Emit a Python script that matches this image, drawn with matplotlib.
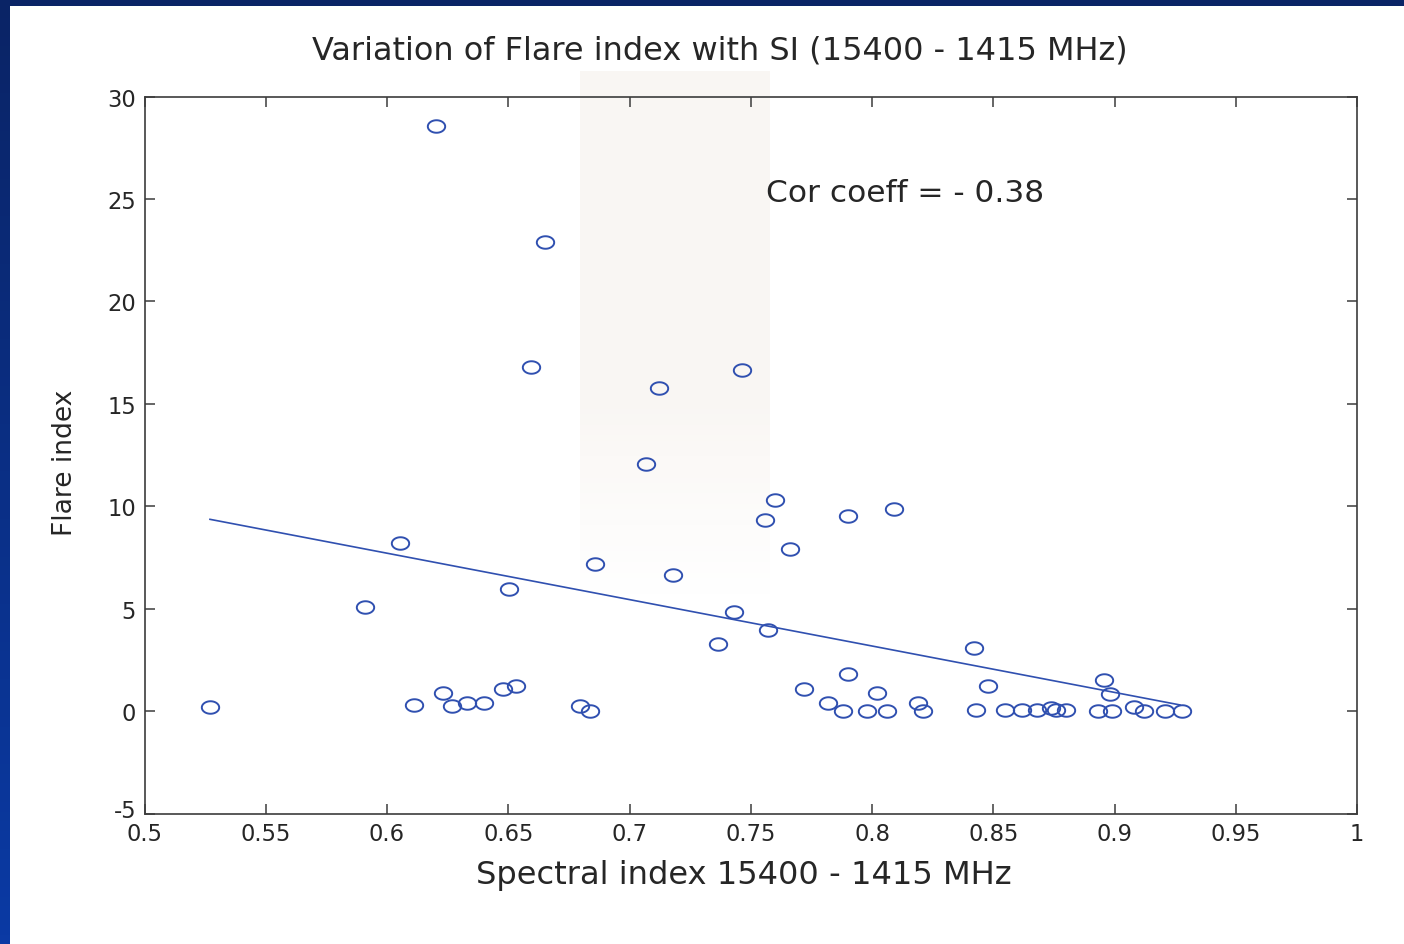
import numpy as np
import matplotlib
matplotlib.use('Agg')
import matplotlib.pyplot as plt
from matplotlib.path import Path
from matplotlib.colors import LinearSegmentedColormap
from matplotlib.transforms import offset_copy

# ---------------- data ----------------
si = [0.527, 0.6055, 0.591, 0.6505, 0.6857, 0.611, 0.623, 0.627, 0.633, 0.640,
      0.648, 0.653, 0.6795, 0.6836, 0.620, 0.665, 0.6595, 0.7465, 0.712, 0.707,
      0.760, 0.756, 0.790, 0.809, 0.766, 0.718, 0.743, 0.757, 0.7365, 0.790,
      0.772, 0.802, 0.782, 0.788, 0.798, 0.806, 0.819, 0.821, 0.842, 0.848,
      0.843, 0.855, 0.862, 0.868, 0.874, 0.876, 0.880, 0.893, 0.899, 0.8956,
      0.898, 0.908, 0.912, 0.921, 0.928]
flare = [0.22, 8.18, 5.07, 5.98, 7.16, 0.31, 0.88, 0.25, 0.38, 0.38,
         1.10, 1.24, 0.23, 0.0, 28.56, 22.89, 16.8, 16.65, 15.76, 12.06,
         10.29, 9.32, 9.52, 9.84, 7.89, 6.63, 4.84, 3.95, 3.29, 1.81,
         1.10, 0.87, 0.41, 0.0, 0.0, 0.0, 0.41, 0.0, 3.07, 1.21,
         0.04, 0.03, 0.04, 0.05, 0.15, 0.05, 0.06, 0.0, 0.0, 1.54,
         0.85, 0.21, 0.0, 0.0, 0.0]
fit_si = [0.527, 0.927]
fit_flare = [9.36, 0.30]

x_ticks = [0.5, 0.55, 0.6, 0.65, 0.7, 0.75, 0.8, 0.85, 0.9, 0.95, 1.0]
x_tick_labels = ['0.5', '0.55', '0.6', '0.65', '0.7', '0.75', '0.8', '0.85', '0.9', '0.95', '1']
y_ticks = [-5, 0, 5, 10, 15, 20, 25, 30]
y_tick_labels = ['-5', '0', '5', '10', '15', '20', '25', '30']

title_text = 'Variation of Flare index with SI (15400 - 1415 MHz)'
xlabel_text = 'Spectral index 15400 - 1415 MHz'
ylabel_text = 'Flare index'
cor_text = 'Cor coeff = - 0.38'

# ---------------- style ----------------
plt.rcParams['font.family'] = ['DejaVu Sans']
W, H = 1404, 945
BLUE = '#3050b0'
TXT = '#262626'
AX = '#3c3c3c'

fig = plt.figure(figsize=(W / 100, H / 100), dpi=100, facecolor='white')

# slide border (blue) on top and left
cmap = LinearSegmentedColormap.from_list('b', ['#0a2466', '#0b3aa4'])
lax = fig.add_axes([0, 0, 9.5 / W, 1])
lax.imshow(np.linspace(0, 1, 100).reshape(-1, 1), aspect='auto', cmap=cmap)
lax.set_axis_off()
tax = fig.add_axes([0, 1 - 7 / H, 1, 7 / H])
tax.imshow(np.zeros((1, 10)), aspect='auto', cmap=cmap, vmin=0, vmax=1)
tax.set_axis_off()

# faint scan shading band
band = LinearSegmentedColormap.from_list('band', ['#f9f6f3', '#ffffff'])
bax = fig.add_axes([580 / W, 1 - 600 / H, 190 / W, (600 - 72) / H], zorder=-5)
bax.imshow(np.concatenate([np.zeros(60), np.linspace(0, 1, 40)]).reshape(-1, 1),
           aspect='auto', cmap=band, vmin=0, vmax=1)
bax.set_axis_off()

ax = fig.add_axes([144.5 / W, 1 - 814.5 / H, 1212.5 / W, 717 / H])
ax.set_facecolor('none')

t = np.linspace(0, 2 * np.pi, 80)
ell = Path(np.column_stack([np.cos(t), 0.72 * np.sin(t)]), closed=True)

ax.plot(si, flare, linestyle='none', marker=ell, ms=12.5, mfc='none',
        mec=BLUE, mew=1.4)
ax.plot(fit_si, fit_flare, color=BLUE, lw=1.2)

ax.set_xlim(0.5, 1.0)
ax.set_ylim(-5, 30)
ax.set_xticks(x_ticks)
ax.set_xticklabels(x_tick_labels)
ax.set_yticks(y_ticks)
ax.set_yticklabels(y_tick_labels)
for s in ax.spines.values():
    s.set_color(AX)
    s.set_linewidth(1.2)
ax.tick_params(direction='in', length=7, width=1.1, color=AX, top=True,
               right=True, labelcolor=TXT, pad=6)

title = fig.text(720 / W, 1 - 51 / H, title_text, ha='center', va='center', color=TXT)
xl = fig.text(744 / W, 1 - 876 / H, xlabel_text, ha='center', va='center', color=TXT)
yl = fig.text(65 / W, 1 - 463 / H, ylabel_text, ha='center', va='center',
              rotation=90, color=TXT)
cor = ax.text((766 - 144.5) / 1212.5, (814.5 - 193) / 717, cor_text,
              transform=ax.transAxes, ha='left', va='center', color=TXT)

fig.canvas.draw()
r = fig.canvas.get_renderer()


def fit(txt, target, f=0.95, vertical=False):
    bb = txt.get_window_extent(r)
    w = bb.height if vertical else bb.width
    txt.set_fontsize(txt.get_fontsize() * target * f / w)


fit(title, 860)
fit(xl, 562)
fit(cor, 292)
fit(yl, 140, f=1.05, vertical=True)

tmp = fig.text(0, 0, '0.55', fontsize=10)
w = tmp.get_window_extent(r).width
tmp.remove()
ax.tick_params(labelsize=10 * 50 * 1.0 / w)

# lift the corner "-5" label slightly so it sits just above "0.5"
lab = ax.yaxis.get_major_ticks()[0].label1
lab.set_transform(offset_copy(lab.get_transform(), fig=fig, x=0, y=5, units='dots'))

fig.savefig('out.png', dpi=100, facecolor='white')
